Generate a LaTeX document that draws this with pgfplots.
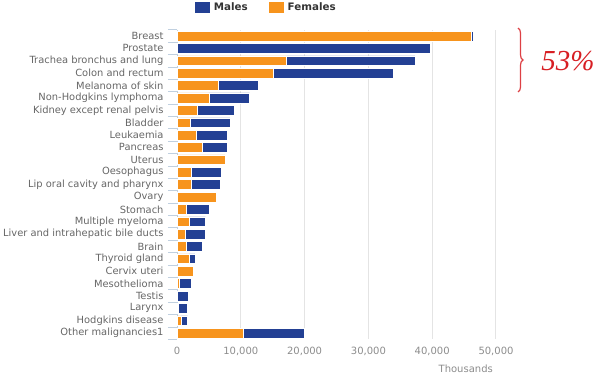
\documentclass[border=0pt]{standalone}
\usepackage{pgfplots}
\pgfplotsset{compat=1.18}
\usepackage{pgfplotstable}
\usepackage{fontspec}
\setmainfont{DejaVu Sans}
\newfontfamily\handfont{Liberation Serif}
\usetikzlibrary{decorations.pathreplacing}
\definecolor{mblue}{RGB}{35,64,148}
\definecolor{forange}{RGB}{247,148,29}
\definecolor{gridgrey}{RGB}{228,228,228}
\definecolor{axisblue}{RGB}{192,208,224}
\definecolor{labelgrey}{RGB}{102,102,102}
\definecolor{ticklabgrey}{RGB}{140,140,140}
\definecolor{legendgrey}{RGB}{51,51,51}
\definecolor{handred}{RGB}{215,30,35}

\pgfplotstableread{
idx F M
0 46100 300
1 0 39700
2 17200 20100
3 15100 18800
4 6400 6400
5 5000 6400
6 3200 5700
7 2100 6200
8 3000 4900
9 3900 4000
10 7500 0
11 2200 4800
12 2200 4600
13 6100 0
14 1500 3600
15 1900 2600
16 1300 3100
17 1500 2400
18 1900 900
19 2500 0
20 300 1900
21 0 1750
22 150 1450
23 650 1000
24 10400 9500
}\datatable

\begin{document}
\begin{tikzpicture}
\begin{axis}[
  at={(177pt,37.7pt)}, anchor=south west,
  scale only axis, width=319pt, height=309.5pt,
  xbar stacked, bar width=9.8pt,
  xmin=0, xmax=50000, ymin=-0.5, ymax=24.5, y dir=reverse,
  ytick={0,...,24},
  yticklabels={Breast,Prostate,Trachea bronchus and lung,Colon and rectum,Melanoma of skin,Non-Hodgkins lymphoma,Kidney except renal pelvis,Bladder,Leukaemia,Pancreas,Uterus,Oesophagus,Lip oral cavity and pharynx,Ovary,Stomach,Multiple myeloma,Liver and intrahepatic bile ducts,Brain,Thyroid gland,Cervix uteri,Mesothelioma,Testis,Larynx,Hodgkins disease,Other malignancies1},
  xtick={0,10000,20000,30000,40000,50000},
  scaled x ticks=false,
  x tick label style={/pgf/number format/1000 sep={,}, /pgf/number format/assume math mode=true, color=ticklabgrey, yshift=-4pt, font=\fontsize{10}{12}\selectfont},
  y tick label style={color=labelgrey, xshift=-10pt, font=\fontsize{9.9}{12}\selectfont},
  xmajorgrids, ymajorgrids=false,
  major grid style={color=gridgrey, line width=1pt},
  axis y line*=left, axis x line*=bottom,
  x axis line style={draw=none},
  y axis line style={color=axisblue, line width=1pt},
  major tick length=0pt,
  extra y ticks={-0.5,0.5,...,24.5},
  extra y tick labels={},
  extra y tick style={major tick length=9pt, tick align=outside, tick style={color=axisblue, line width=0.8pt}, grid=none},
  legend style={at={(0.283,1.072)}, anchor=center, draw=none, fill=none, legend columns=2,
    font=\bfseries\fontsize{10.3}{12}\selectfont, text=legendgrey,
    nodes={inner xsep=4pt},
    /tikz/every even column/.append style={column sep=17pt}},
  legend image code/.code={\fill[#1, draw=none] (0pt,-5.5pt) rectangle (15pt,6pt);},
]
\addlegendimage{fill=mblue, draw=none}
\addlegendentry{Males}
\addlegendimage{fill=forange, draw=none}
\addlegendentry{Females}
\addplot[fill=forange, draw=white, line width=0.5pt, forget plot] table[x=F, y=idx] {\datatable};
\addplot[fill=mblue, draw=white, line width=0.5pt, forget plot] table[x=M, y=idx] {\datatable};
\end{axis}
\node[anchor=east, text=ticklabgrey, font=\fontsize{10}{12}\selectfont, inner sep=0pt] at (493pt,8pt) {Thousands};
\draw[handred!85, line width=1.2pt, decorate, decoration={brace, amplitude=5pt}] (518pt,349pt) -- (518pt,285pt);
\node[text=handred, font=\handfont\itshape\fontsize{29}{31}\selectfont, inner sep=0pt] at (568pt,316pt) {53\%};
\pgfresetboundingbox
\useasboundingbox (0,0) rectangle (605pt,377pt);
\end{tikzpicture}
\end{document}
